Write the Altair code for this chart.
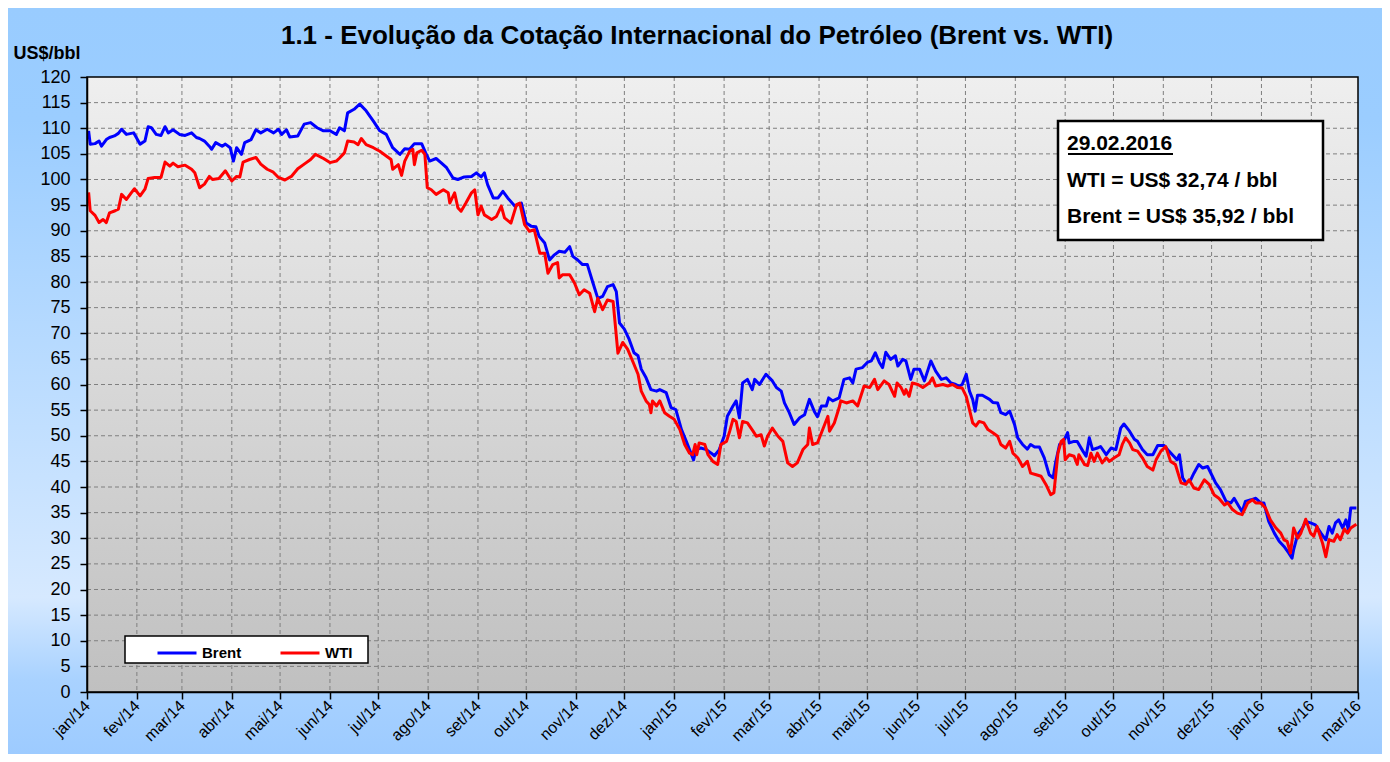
import json
import pandas as pd
import altair as alt

# ---------------- data ----------------
title_text = "1.1 - Evolução da Cotação Internacional do Petróleo (Brent vs. WTI)"
y_unit = "US$/bbl"
series_names = ["Brent", "WTI"]
series_colors = ["#0000FF", "#FF0000"]
month_labels = ["jan/14", "fev/14", "mar/14", "abr/14", "mai/14", "jun/14", "jul/14",
                "ago/14", "set/14", "out/14", "nov/14", "dez/14",
                "jan/15", "fev/15", "mar/15", "abr/15", "mai/15", "jun/15", "jul/15",
                "ago/15", "set/15", "out/15", "nov/15", "dez/15",
                "jan/16", "fev/16", "mar/16"]
y_ticks = list(range(0, 125, 5))
note_lines = ["29.02.2016", "WTI = US$ 32,74 / bbl", "Brent = US$ 35,92 / bbl"]

# days elapsed since 01/01/2014 and price in US$/bbl
brent_days = [1, 2, 5, 7.5, 9, 12, 14, 17, 19.5, 21.5, 24.5, 27.5, 29, 33, 36, 38, 40, 43, 46, 48.5,
              50.5, 53.5, 57.5, 61, 65, 68, 70, 73, 76, 77.5, 80, 84, 86, 89, 91, 93, 96, 98, 102, 105,
              108, 112, 116, 119, 121, 124, 126, 131, 135, 139, 143, 147, 151, 155,
              157, 160, 162, 166, 169.5, 173.5, 178, 182, 186, 190, 194.5, 197.5, 200.5, 203.5, 208,
              210.5, 213, 217, 220, 223.5, 227.5, 230.5, 234.5, 239, 242, 245, 247, 249, 252.5, 255.5,
              258.5, 261.5, 266, 270, 273, 276, 279, 281, 284.5, 287.5, 290.5, 293.5, 297, 300, 302,
              305, 308, 311, 314.5, 317.5, 320.5, 323.5, 327, 329, 331,
              334, 337, 340, 342.5, 344.5, 347.5, 350.5, 354, 356, 360, 363, 366, 369.5, 372.5, 374.5,
              377, 378.5, 381.5, 385, 388, 390, 393, 396, 398, 401.5, 403.5, 405.5, 407.5, 410.5,
              413.5, 415, 418, 422, 426, 428.5, 431.5, 433.5, 436.5, 439.5, 443, 446, 449, 452, 454,
              456.5, 459.5, 461, 463.5, 467.5, 470.5, 474, 476, 478, 482, 485, 487.5, 490, 492.5,
              494.5, 496.5, 499.5, 502.5, 504, 507, 509, 512, 514, 517.5, 520.5, 524.5, 527.5, 531,
              534, 537, 540,
              542, 544, 546.5, 548.5, 550.5, 552, 553.5, 556.5, 561, 563, 566, 568, 571, 573.5, 576.5,
              578.5, 581.5, 584.5, 586.5, 589, 592, 595, 598, 600.5, 602, 604.5, 606.5, 608.5, 609.5,
              610.5, 613.5, 615.5, 619, 621, 623, 625, 628, 630, 633.5, 636.5, 639.5, 642.5, 644.5,
              648, 651, 653, 656, 659, 662.5, 665.5, 669.5, 672.5, 675.5, 677.5, 679, 681, 683, 686,
              688, 691, 693.5, 696.5, 699.5, 701.5, 704.5, 708, 711, 713, 716, 718, 720, 723.5, 726.5,
              729.5, 731.5, 734.5, 738, 741, 744, 747, 749, 750, 752.5, 755.5, 757.5, 760.5, 763.5,
              767, 770, 772, 774, 776, 778, 780.5, 782.5, 784, 785.5, 789]
brent_values = [109.5, 106.9, 107.0, 107.5, 106.5, 107.8, 108.2, 108.5, 109.0, 109.8, 108.8, 109.0, 109.1,
                106.9, 107.5, 110.3, 110.1, 108.8, 108.6, 110.3, 109.1, 109.7, 108.8, 108.6, 109.1,
                108.2, 108.0, 107.5, 106.5, 105.9, 107.2, 106.5, 106.9, 106.2, 103.6, 106.2, 104.9,
                107.2, 107.8, 109.7, 109.1, 109.8, 109.1, 109.8, 108.8, 109.7, 108.3, 108.5, 110.8,
                111.1, 110.1, 109.5, 109.5, 108.8,
                110.1, 109.5, 113.0, 113.7, 114.7, 113.4, 111.4, 109.5, 108.8, 106.2, 104.9, 106.0,
                105.9, 107.0, 107.0, 105.2, 103.6, 104.1, 103.3, 102.3, 100.3, 100.0, 100.5, 100.6,
                101.3, 100.5, 101.3, 99.0, 96.4, 96.4, 97.7, 96.4, 94.8, 95.4, 91.5, 90.9, 90.8, 88.9,
                87.6, 84.3, 85.3, 86.0, 85.8, 86.9, 85.0, 84.3, 83.4, 83.4, 79.8, 76.8, 77.2, 79.1,
                79.5, 78.1, 72.0,
                70.8, 68.8, 66.2, 65.6, 63.0, 61.3, 59.0, 58.7, 59.0, 58.4, 55.5, 55.1, 51.2, 48.9,
                47.3, 45.3, 47.3, 47.6, 47.3, 46.6, 46.1, 47.3, 49.9, 53.8, 55.8, 56.8, 53.5, 60.3,
                61.0, 59.0, 61.0, 60.0, 62.0, 60.7, 59.4, 58.7, 56.4, 54.5, 52.2, 53.5, 54.1, 57.1,
                54.8, 53.7, 55.8, 55.8, 57.4, 56.8, 57.4, 61.0, 61.3, 60.3, 63.0, 63.3, 64.3, 64.6,
                66.2, 64.3, 63.3, 66.3, 64.9, 65.6, 63.6, 64.9, 64.6, 61.0, 63.0, 63.0, 60.7, 64.6,
                62.6, 61.0, 61.3, 60.3, 60.0,
                59.7, 60.0, 62.0, 58.7, 57.1, 54.8, 57.9, 57.9, 57.1, 56.5, 56.4, 54.5, 54.1, 54.8,
                52.2, 49.6, 48.3, 47.4, 48.3, 47.8, 47.8, 45.7, 42.4, 41.8, 44.7, 48.3, 48.6, 49.9,
                50.6, 48.6, 48.9, 48.9, 47.0, 46.0, 49.6, 47.3, 47.6, 47.9, 46.3, 47.6, 47.3, 51.5,
                52.3, 50.9, 49.3, 48.9, 47.3, 46.3, 46.3, 48.1, 48.1, 47.0, 46.0, 45.3, 46.3, 41.8,
                40.8, 41.4, 42.7, 44.4, 43.7, 44.0, 42.1, 40.8, 39.5, 37.2, 36.9, 37.8, 36.2, 35.2,
                37.2, 37.5, 37.8, 36.9, 36.9, 33.3, 31.0, 29.4, 28.4, 27.1, 26.1, 27.8, 30.7, 32.0,
                33.3, 33.0, 32.6, 31.0, 29.7, 32.3, 31.0, 33.0, 33.6, 32.0, 33.6, 31.7, 35.9, 35.92]

wti_days = [1, 2, 5, 7.5, 10, 12, 14, 17.5, 19.5, 21.5, 24.5, 27.5, 29.5, 33, 36, 38, 42, 46, 48.5,
            51.5, 53.5, 56.5, 61, 65, 67, 70, 73, 76, 78, 82, 86, 90, 93, 95, 97, 101, 105, 108, 112,
            115.5, 119, 123, 127, 131, 135, 139, 142, 147, 151, 155,
            157, 160, 162, 166, 168.5, 170.5, 173.5, 178, 182, 186, 189, 190, 193.5, 195.5, 197.5,
            200.5, 202.5, 203.5, 205, 208, 210, 211.5, 214, 217, 221.5, 224.5, 225.5, 228.5, 230.5,
            232.5, 235.5, 239, 241, 243, 245, 247, 251.5, 254.5, 257.5, 259.5, 263.5, 267, 269, 272,
            275, 278, 281.5, 284.5, 286.5, 289.5, 292.5, 293.5, 295.5, 300, 303, 306, 309, 312.5,
            315.5, 317.5, 320.5, 323.5, 327, 330,
            333, 336, 339.5, 342.5, 344.5, 347.5, 349.5, 350.5, 351.5, 354, 356, 359, 362, 365,
            368.5, 371.5, 374.5, 376.5, 378, 379, 380.5, 384, 386, 389, 392, 394, 397.5, 399.5,
            401.5, 403.5, 405.5, 407.5, 410.5, 414, 416, 419, 421, 423, 426, 429.5, 432.5, 435.5,
            438.5, 441.5, 445, 448, 449, 451, 454, 456.5, 460.5, 461.5, 464.5, 467.5, 468.5, 472,
            476, 479, 483, 486.5, 489.5, 491.5, 495.5, 498.5, 502, 503.5, 506, 508, 509, 511, 513,
            516.5, 519.5, 523.5, 525.5, 527.5, 532, 535, 538, 541,
            544, 546.5, 548.5, 550.5, 552.5, 554.5, 557.5, 560, 563, 566, 568, 571, 573.5, 575.5,
            578.5, 581.5, 584.5, 586.5, 590, 593, 596, 599, 601, 603.5, 605.5, 607, 608, 610.5,
            613.5, 615.5, 616.5, 620, 622, 624, 626, 628, 631, 633.5, 635.5, 638.5, 641.5, 643.5,
            645.5, 648, 650, 653, 656, 659, 662.5, 664.5, 667.5, 670.5, 673.5, 676.5, 680, 683,
            685, 688, 691, 694.5, 697.5, 700.5, 703.5, 707, 709, 712, 715, 718, 721.5, 724.5,
            726.5, 729.5, 732.5, 735.5, 739, 742, 744, 746, 748, 750, 752.5, 754.5, 757.5, 760.5,
            762.5, 764.5, 768, 770, 772, 775, 777, 779, 781.5, 783.5, 785.5, 789]
wti_values = [97.5, 93.9, 93.0, 91.6, 92.2, 91.6, 93.5, 93.9, 94.2, 97.1, 96.1, 97.4, 98.2, 96.8, 98.1,
              100.2, 100.4, 100.4, 103.4, 102.6, 103.2, 102.5, 102.8, 102.0, 101.3, 98.4, 99.1, 100.6,
              100.0, 100.2, 101.7, 99.7, 100.6, 100.5, 103.4, 103.9, 104.3, 103.0, 102.0, 101.5, 100.4,
              99.9, 100.6, 102.1, 103.0, 103.9, 104.9, 104.1, 103.3, 103.6,
              104.2, 105.2, 107.5, 107.3, 106.8, 108.0, 106.8, 106.2, 105.5, 104.6, 103.9, 102.0,
              102.9, 100.8, 103.6, 105.5, 105.9, 102.9, 105.2, 105.7, 104.9, 98.4, 98.0, 97.1, 98.0,
              97.4, 95.4, 97.4, 94.5, 93.8, 95.4, 97.4, 98.0, 93.1, 94.8, 93.1, 92.2, 92.8, 94.8,
              92.5, 91.5, 95.1, 95.4, 91.2, 89.9, 90.2, 85.6, 85.6, 81.7, 83.4, 83.8, 80.8, 81.4,
              81.4, 79.8, 77.5, 78.5, 77.8, 74.2, 76.8, 74.6, 76.5, 76.2, 66.1,
              68.2, 66.9, 64.3, 62.0, 58.7, 56.8, 56.1, 54.5, 56.8, 55.8, 56.8, 54.5, 53.8, 53.2,
              51.2, 48.3, 46.6, 46.3, 48.3, 46.3, 48.6, 48.3, 46.3, 45.0, 44.4, 48.3, 48.9, 50.9,
              53.2, 52.8, 49.6, 52.8, 52.5, 50.9, 49.9, 50.2, 48.0, 49.9, 51.5, 49.9, 48.9, 44.7,
              44.0, 44.7, 47.3, 48.3, 51.5, 48.3, 48.6, 50.6, 53.8, 50.9, 52.5, 55.5, 56.8, 56.4,
              56.8, 55.8, 59.7, 59.4, 61.0, 59.0, 60.7, 60.0, 57.7, 60.3, 59.4, 58.1, 59.0, 57.7,
              60.3, 60.0, 59.4, 60.3, 61.3, 59.7, 60.0, 59.7, 60.0, 59.4,
              59.3, 57.7, 55.1, 52.5, 51.9, 52.8, 52.5, 51.2, 50.6, 49.9, 48.3, 47.6, 48.9, 46.6,
              45.7, 44.0, 45.0, 42.7, 42.4, 42.1, 40.5, 38.5, 38.9, 46.6, 48.9, 49.3, 45.3, 46.3,
              46.0, 44.4, 46.3, 44.4, 44.2, 46.6, 45.0, 46.6, 44.7, 45.7, 45.0, 45.7, 46.3, 48.3,
              49.6, 48.6, 47.3, 47.0, 45.7, 44.0, 43.3, 45.3, 47.0, 47.9, 45.0, 44.4, 40.8, 40.5,
              41.4, 39.8, 39.5, 41.4, 40.5, 38.5, 37.8, 36.5, 36.9, 35.6, 34.9, 34.6, 36.9, 37.5,
              36.9, 36.9, 35.9, 33.6, 32.0, 31.0, 29.7, 29.4, 27.1, 32.0, 30.0, 31.0, 33.7, 31.0,
              30.4, 32.3, 29.0, 26.4, 29.7, 29.4, 30.7, 29.7, 31.8, 31.0, 32.0, 32.74]

# ---------------- tables ----------------
START = pd.Timestamp("2014-01-01")


def to_iso(days):
    return [(START + pd.Timedelta(days=float(d))).strftime("%Y-%m-%dT%H:%M:%S") for d in days]


df = pd.concat([
    pd.DataFrame({"date": to_iso(brent_days), "price": brent_values, "serie": "Brent"}),
    pd.DataFrame({"date": to_iso(wti_days), "price": wti_values, "serie": "WTI"}),
], ignore_index=True)

month_starts = pd.date_range("2014-01-01", periods=len(month_labels), freq="MS")
month_iso = [m.strftime("%Y-%m-%dT%H:%M:%S") for m in month_starts]
xgrid_df = pd.DataFrame({"date": month_iso[1:-1]})
ygrid_df = pd.DataFrame({"price": y_ticks[1:-1]})
one = pd.DataFrame({"k": [0]})

# ---------------- layout ----------------
FONT = "Liberation Sans, Arial, Helvetica, sans-serif"
W, H = 1271, 615
PL, PT, PR, PB = 79, 69, 24, 62

xscale = alt.Scale(domain=[alt.DateTime(year=2014, month=1, date=1),
                           alt.DateTime(year=2016, month=3, date=1)], nice=False)
yscale = alt.Scale(domain=[0, 120], nice=False, zero=True)

label_expr = f"{json.dumps(month_labels)}[(year(datum.value)-2014)*12+month(datum.value)]"

x_axis = alt.Axis(
    values=[alt.DateTime(year=int(m.year), month=int(m.month), date=1) for m in month_starts],
    labelExpr=label_expr, labelAngle=-45, labelAlign="right", labelBaseline="middle",
    labelFont=FONT, labelFontSize=16, labelColor="#000000", labelPadding=4,
    labelOverlap=False, labelFlush=False,
    tickColor="#000000", tickSize=7, tickWidth=1.5,
    domainColor="#000000", domainWidth=1.5, grid=False, title=None, zindex=2)

y_axis = alt.Axis(
    values=y_ticks, labelFont=FONT, labelFontSize=18, labelColor="#000000", labelPadding=10,
    labelOverlap=False, tickColor="#000000", tickSize=7, tickWidth=1.5,
    domainColor="#000000", domainWidth=1.5, grid=False,
    title=y_unit, titleAngle=0, titleX=-74, titleY=-19, titleAlign="left",
    titleBaseline="alphabetic", titleFont=FONT, titleFontSize=18, titleFontWeight="bold",
    titleColor="#000000", zindex=2)

outer_fill = {"gradient": "linear", "x1": 0, "y1": 0, "x2": 0, "y2": 1,
              "stops": [{"offset": 0, "color": "#99CCFF"},
                        {"offset": 0.15, "color": "#9BCDFF"},
                        {"offset": 0.79, "color": "#D6E9FF"},
                        {"offset": 0.9, "color": "#A9D2FF"},
                        {"offset": 1, "color": "#9DCBFF"}]}
plot_fill = {"gradient": "linear", "x1": 0, "y1": 0, "x2": 0, "y2": 1,
             "stops": [{"offset": 0, "color": "#EFEFEF"},
                       {"offset": 1, "color": "#C0C0C0"}]}

outer_bg = alt.Chart(one).mark_rect(fill=outer_fill).encode(
    x=alt.value(-PL), x2=alt.value(W + PR), y=alt.value(-PT), y2=alt.value(H + PB))
plot_bg = alt.Chart(one).mark_rect(fill=plot_fill).encode(
    x=alt.value(0), x2=alt.value(W), y=alt.value(0), y2=alt.value(H))

grid_style = dict(color="#7F7F7F", strokeDash=[4, 3], strokeWidth=1)
ygrid = alt.Chart(ygrid_df).mark_rule(**grid_style).encode(
    y=alt.Y("price:Q", scale=yscale, axis=y_axis))
xgrid = alt.Chart(xgrid_df).mark_rule(**grid_style).encode(
    x=alt.X("date:T", scale=xscale, axis=x_axis))

lines = alt.Chart(df).mark_line(strokeWidth=3, strokeJoin="round").encode(
    x=alt.X("date:T", scale=xscale, axis=x_axis),
    y=alt.Y("price:Q", scale=yscale, axis=y_axis),
    color=alt.Color("serie:N",
                    scale=alt.Scale(domain=series_names, range=series_colors),
                    legend=alt.Legend(orient="none", legendX=69, legendY=555,
                                      direction="horizontal", title=None,
                                      symbolType="stroke", symbolSize=1521,
                                      symbolStrokeWidth=3, labelFont=FONT,
                                      labelFontSize=15, labelFontWeight="bold",
                                      labelColor="#000000", labelOffset=4,
                                      columnPadding=32, padding=0)),
    order=alt.Order("date:T"))

border = alt.Chart(one).mark_rect(fill="transparent", stroke="#000000", strokeWidth=1.5).encode(
    x=alt.value(0), x2=alt.value(W), y=alt.value(0), y2=alt.value(H))

legend_box = alt.Chart(one).mark_rect(fill="#FFFFFF", stroke="#000000", strokeWidth=1.5).encode(
    x=alt.value(38), x2=alt.value(281), y=alt.value(559), y2=alt.value(586))

note_box = alt.Chart(one).mark_rect(fill="#FFFFFF", stroke="#000000", strokeWidth=2.5).encode(
    x=alt.value(971), x2=alt.value(1236), y=alt.value(44), y2=alt.value(163))

note_style = dict(align="left", baseline="alphabetic", font=FONT, fontSize=21,
                  fontWeight="bold", color="#000000")
note_1 = alt.Chart(one).mark_text(text=note_lines[0], **note_style).encode(
    x=alt.value(980), y=alt.value(73))
note_2 = alt.Chart(one).mark_text(text=note_lines[1], **note_style).encode(
    x=alt.value(980), y=alt.value(110))
note_3 = alt.Chart(one).mark_text(text=note_lines[2], **note_style).encode(
    x=alt.value(980), y=alt.value(146))
underline = alt.Chart(one).mark_rule(color="#000000", strokeWidth=2).encode(
    x=alt.value(981), x2=alt.value(1086), y=alt.value(77))

title_mark = alt.Chart(one).mark_text(
    text=title_text, align="center", baseline="alphabetic", font=FONT, fontSize=26,
    fontWeight="bold", color="#000000").encode(x=alt.value(610), y=alt.value(-33))

chart = alt.layer(
    outer_bg, plot_bg, ygrid, xgrid, lines, border, legend_box, note_box,
    note_1, note_2, note_3, underline, title_mark
).properties(
    width=W, height=H,
    padding={"left": PL, "top": PT, "right": PR, "bottom": PB},
    autosize=alt.AutoSizeParams(type="none"),
    background="#99CCFF",
).configure_view(stroke=None)

chart.save("out.html", embed_options={"renderer": "svg", "actions": False})
